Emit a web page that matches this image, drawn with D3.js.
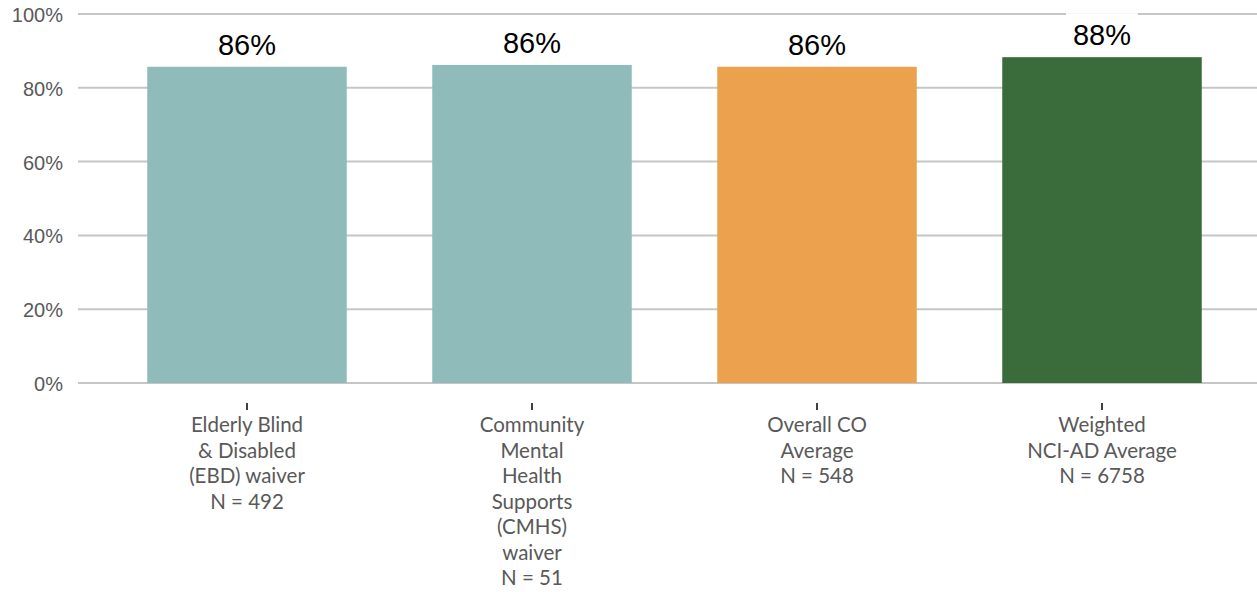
<!DOCTYPE html>
<html><head><meta charset="utf-8">
<script src="https://cdn.jsdelivr.net/npm/d3@7"></script>
<style>body{margin:0;background:#fff}svg{display:block}</style>
</head><body>
<svg id="c" width="1257" height="592"></svg>
<script>
const categories = [
  ["Elderly Blind", "& Disabled", "(EBD) waiver", "N = 492"],
  ["Community", "Mental", "Health", "Supports", "(CMHS)", "waiver", "N = 51"],
  ["Overall CO", "Average", "N = 548"],
  ["Weighted", "NCI-AD Average", "N = 6758"]
];
const values = [85.7, 86.2, 85.7, 88.3];
const valueLabels = ["86%", "86%", "86%", "88%"];
const colors = ["#8FBCBB", "#8FBCBB", "#ECA14E", "#3A6B3A"];
const yTicks = [0, 20, 40, 60, 80, 100];

const svg = d3.select("#c");
const x = d3.scaleBand().domain(d3.range(categories.length)).range([104.5, 1244.5]).paddingInner(0.3).paddingOuter(0.15);
const y = d3.scaleLinear().domain([0, 100]).range([383, 14]);

// gridlines
svg.append("g").selectAll("line").data(yTicks).join("line")
  .attr("x1", 78).attr("x2", 1257)
  .attr("y1", d => y(d)).attr("y2", d => y(d))
  .attr("stroke", "#c6c6c6").attr("stroke-width", 2);

// y labels
svg.append("g").selectAll("text").data(yTicks).join("text")
  .attr("x", 63).attr("y", d => y(d) + 8)
  .attr("text-anchor", "end")
  .attr("font-family", "Liberation Sans, Arial, sans-serif")
  .attr("font-size", 20).attr("fill", "#595959")
  .text(d => d + "%");

// bars
svg.append("g").selectAll("rect").data(values).join("rect")
  .attr("x", (d, i) => x(i)).attr("width", x.bandwidth())
  .attr("y", d => y(d)).attr("height", d => y(0) - y(d))
  .attr("fill", (d, i) => colors[i]);

// value labels with white boxes
const vl = svg.append("g").selectAll("g").data(values).join("g");
vl.append("rect")
  .attr("x", (d, i) => x(i) + x.bandwidth() / 2 - 36)
  .attr("y", d => y(d) - 44).attr("width", 72).attr("height", 38)
  .attr("fill", "#fff");
vl.append("text")
  .attr("x", (d, i) => x(i) + x.bandwidth() / 2)
  .attr("y", d => y(d) - 12)
  .attr("text-anchor", "middle")
  .attr("font-family", "Liberation Sans, Arial, sans-serif")
  .attr("font-size", 29).attr("fill", "#000")
  .text((d, i) => valueLabels[i]);

// category ticks
svg.append("g").selectAll("line").data(categories).join("line")
  .attr("x1", (d, i) => x(i) + x.bandwidth() / 2).attr("x2", (d, i) => x(i) + x.bandwidth() / 2)
  .attr("y1", 403).attr("y2", 410)
  .attr("stroke", "#404040").attr("stroke-width", 2);

// category labels
const cl = svg.append("g").selectAll("text").data(categories).join("text")
  .attr("text-anchor", "middle")
  .attr("font-family", "Lato, 'Open Sans', sans-serif")
  .attr("font-size", 20.5).attr("fill", "#595959");
cl.each(function(lines, i) {
  const t = d3.select(this);
  lines.forEach((ln, j) => {
    t.append("tspan").attr("x", x(i) + x.bandwidth() / 2).attr("y", 432 + j * 25.5).text(ln);
  });
});
</script>
</body></html>
